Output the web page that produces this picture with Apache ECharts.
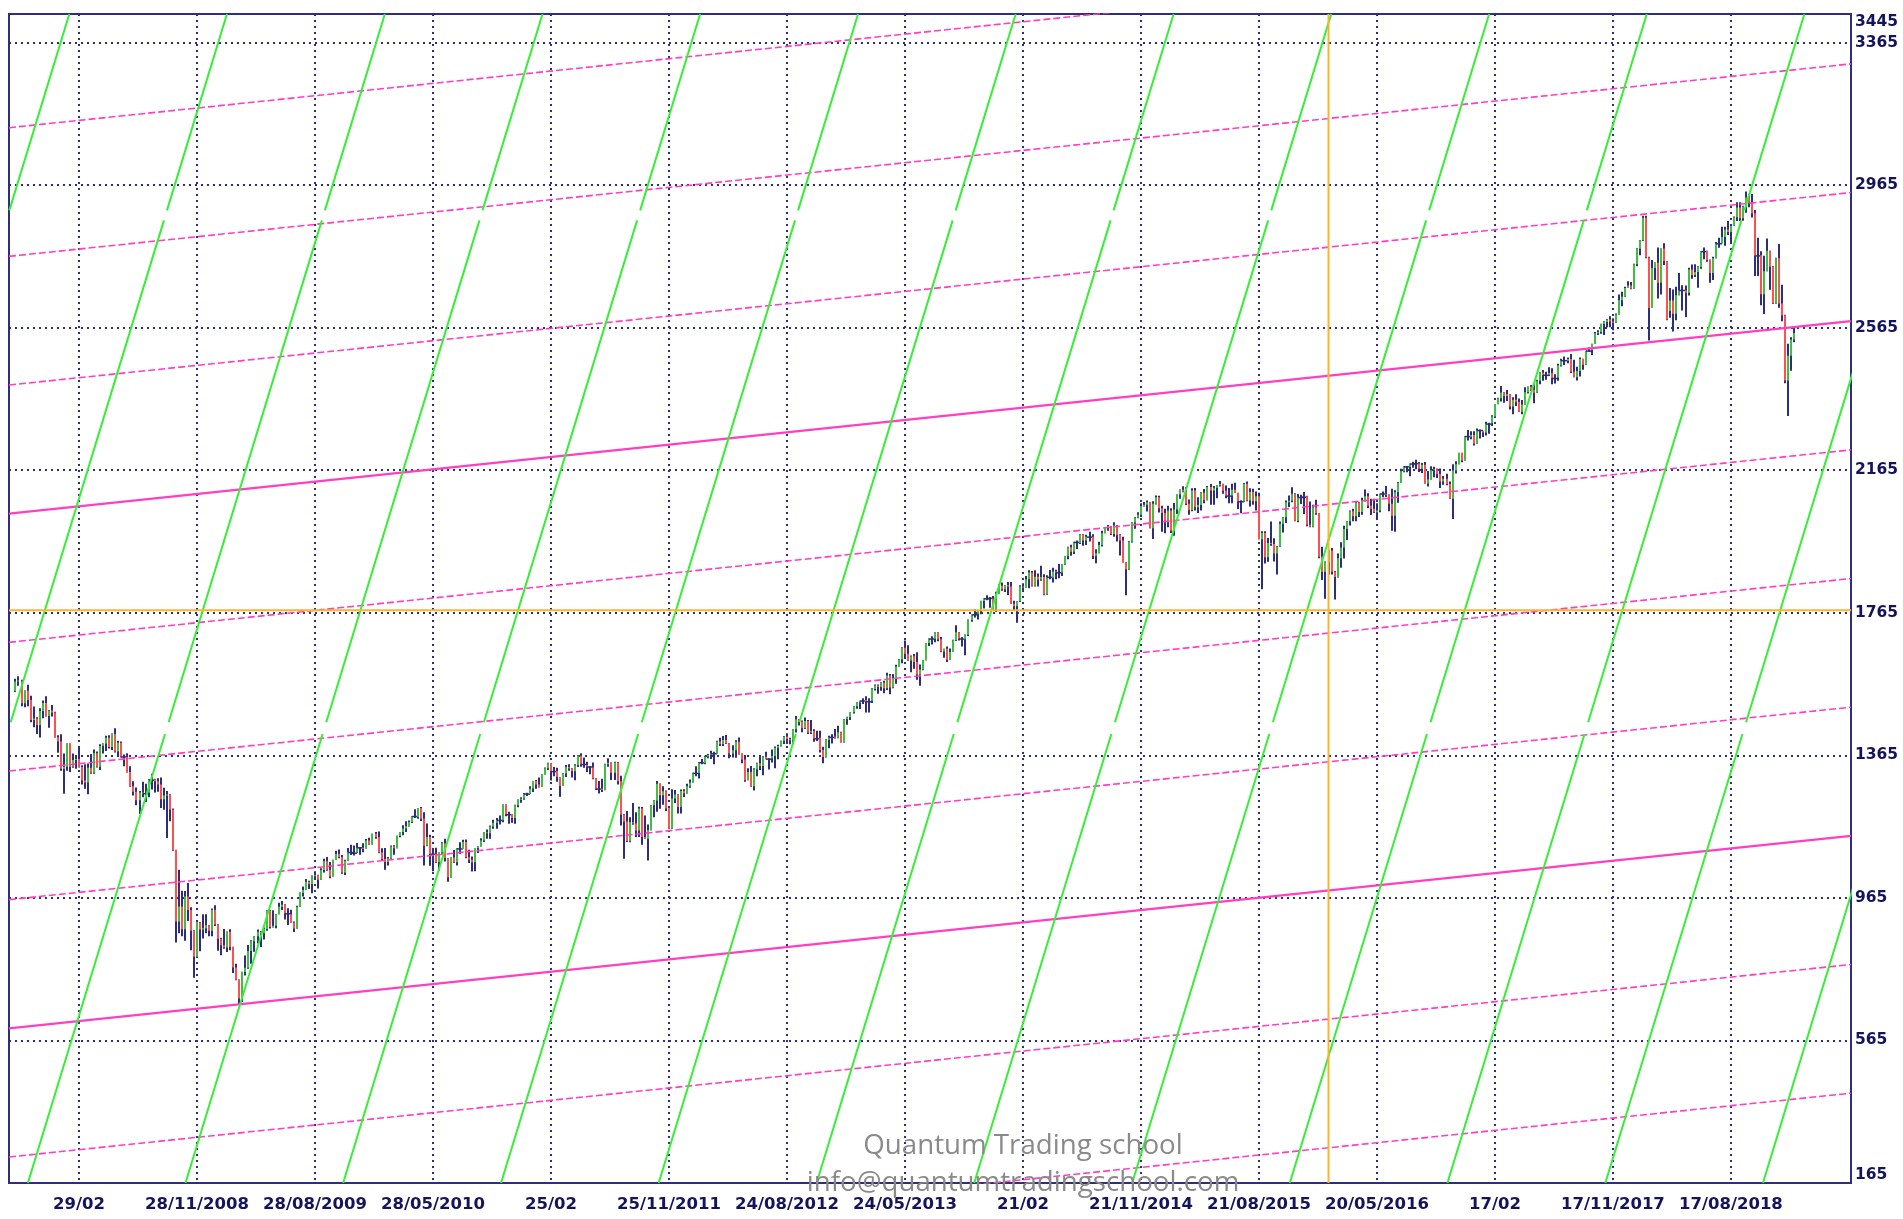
<!DOCTYPE html>
<html>
<head>
    <meta charset="utf-8">
    <title>ES weekly - gann</title>
    <script src="https://cdn.jsdelivr.net/npm/echarts@6/dist/echarts.min.js"></script>
    <style>
        html, body { margin: 0; padding: 0; background: #fff; }
        #main { width: 1903px; height: 1219px; }
    </style>
</head>
<body>
<div id="main"></div>
<script type="text/javascript">
    // weekly bars [open, high, low, close], one array per year, first friday of each array given in yearStart
    var bars2007 = [
        [1545,1580,1543,1572],[1572,1587,1560,1575],[1573,1577,1503,1511],[1511,1547,1500,1546],
        [1546,1563,1503,1520],[1520,1532,1458,1464],[1464,1502,1444,1468],[1468,1472,1425,1450],[1450,1497,1415,1489],
        [1489,1519,1469,1512],[1512,1531,1474,1475],[1475,1492,1442,1491],[1491,1506,1474,1485]
    ];
    var bars2008 = [
        [1485,1487,1415,1416],[1416,1421,1372,1404],[1404,1424,1322,1327],[1327,1370,1257,1333],
        [1333,1398,1322,1397],[1397,1398,1318,1333],[1333,1370,1330,1352],[1352,1363,1327,1355],[1355,1390,1331,1332],
        [1332,1337,1283,1294],[1294,1340,1271,1289],[1289,1342,1256,1330],[1330,1369,1313,1316],
        [1316,1381,1313,1371],[1371,1376,1331,1333],[1333,1396,1324,1391],[1391,1398,1370,1398],
        [1398,1420,1377,1414],[1414,1421,1384,1388],[1388,1426,1380,1425],[1425,1441,1373,1376],[1376,1406,1362,1400],
        [1400,1404,1359,1361],[1361,1367,1334,1360],[1360,1371,1317,1318],[1318,1334,1277,1278],
        [1278,1292,1252,1263],[1263,1275,1225,1239],[1239,1265,1200,1261],[1261,1291,1247,1258],
        [1258,1285,1234,1260],[1260,1298,1247,1296],[1296,1313,1269,1298],[1298,1299,1261,1292],[1292,1301,1263,1283],
        [1283,1303,1217,1242],[1242,1274,1212,1252],[1252,1265,1133,1255],[1255,1256,1180,1213],
        [1213,1216,1097,1099],[1099,1100,840,899],[899,1044,866,941],[941,985,857,877],[877,984,845,969],
        [969,1007,900,931],[931,939,818,873],[873,874,741,800],[800,896,799,896],
        [896,897,815,876],[876,919,851,880],[880,919,866,888],[888,889,857,873]
    ];
    var bars2009 = [
        [873,935,857,932],[932,944,886,890],[890,891,817,850],[850,853,804,832],[832,878,822,826],
        [826,871,813,869],[869,877,818,827],[827,828,754,770],[770,780,734,735],
        [735,736,666,683],[683,758,673,757],[757,803,747,769],[769,833,766,816],
        [816,846,780,843],[843,857,814,857],[857,876,837,870],[870,872,827,866],
        [866,882,848,878],[878,930,873,929],[929,931,879,883],[883,930,882,887],[887,920,880,919],
        [919,951,919,940],[940,956,931,946],[946,947,904,921],[921,936,889,919],
        [919,932,896,896],[896,899,869,879],[879,943,879,940],[940,980,940,979],[979,997,969,987],
        [987,1018,987,1010],[1010,1013,990,1004],[1004,1028,978,1026],[1026,1040,1016,1029],
        [1029,1030,991,1016],[1016,1048,1016,1043],[1043,1075,1036,1068],[1068,1080,1041,1044],
        [1044,1066,1020,1025],[1025,1072,1025,1071],[1071,1097,1071,1088],[1088,1101,1076,1080],[1080,1085,1033,1036],
        [1036,1072,1029,1069],[1069,1105,1069,1093],[1093,1114,1085,1091],[1091,1112,1084,1092],
        [1092,1119,1091,1106],[1106,1108,1086,1106],[1106,1118,1093,1102],[1102,1130,1102,1126]
    ];
    var bars2010 = [
        [1126,1134,1114,1115],[1115,1145,1115,1145],[1145,1150,1131,1136],[1136,1151,1090,1092],[1092,1104,1071,1074],
        [1074,1105,1044,1066],[1066,1080,1056,1076],[1076,1112,1075,1109],[1109,1113,1086,1104],
        [1104,1139,1104,1139],[1139,1150,1135,1150],[1150,1169,1141,1160],[1160,1180,1150,1167],
        [1167,1182,1165,1178],[1178,1195,1175,1194],[1194,1214,1189,1192],[1192,1217,1187,1217],[1217,1220,1181,1187],
        [1187,1205,1056,1111],[1111,1174,1110,1136],[1136,1142,1055,1088],[1088,1104,1040,1089],
        [1089,1106,1063,1065],[1065,1092,1042,1092],[1092,1121,1089,1118],[1118,1131,1067,1077],
        [1077,1077,1010,1023],[1023,1078,1022,1078],[1078,1099,1063,1065],[1065,1104,1056,1103],[1103,1121,1088,1102],
        [1102,1128,1102,1122],[1122,1129,1076,1079],[1079,1100,1063,1072],[1072,1081,1039,1065],
        [1065,1105,1040,1105],[1105,1110,1091,1110],[1110,1132,1109,1126],[1126,1149,1122,1149],
        [1149,1157,1131,1146],[1146,1168,1131,1165],[1165,1184,1159,1176],[1176,1189,1159,1183],[1183,1196,1171,1183],
        [1183,1227,1177,1226],[1226,1227,1194,1199],[1199,1207,1173,1200],[1200,1200,1176,1189],
        [1189,1226,1173,1225],[1225,1241,1219,1240],[1240,1247,1232,1244],[1244,1259,1240,1257],[1257,1260,1251,1258]
    ];
    var bars2011 = [
        [1258,1278,1257,1272],[1272,1293,1262,1293],[1293,1296,1271,1283],[1283,1303,1275,1276],
        [1276,1311,1276,1311],[1311,1331,1311,1329],[1329,1344,1324,1343],[1343,1343,1294,1320],
        [1320,1332,1306,1321],[1321,1330,1291,1304],[1304,1304,1249,1279],[1279,1315,1279,1314],
        [1314,1338,1304,1332],[1332,1340,1322,1328],[1328,1329,1303,1320],[1320,1340,1295,1337],[1337,1365,1332,1364],
        [1364,1371,1333,1340],[1340,1359,1330,1338],[1338,1347,1318,1333],[1333,1334,1312,1331],
        [1331,1345,1298,1300],[1300,1301,1268,1271],[1271,1293,1258,1272],[1272,1299,1262,1268],
        [1268,1341,1267,1340],[1340,1357,1333,1344],[1344,1345,1296,1316],[1316,1347,1296,1345],[1345,1346,1283,1292],
        [1292,1308,1168,1199],[1199,1200,1075,1179],[1179,1209,1122,1124],[1124,1191,1121,1177],
        [1177,1231,1170,1174],[1174,1205,1136,1154],[1154,1221,1136,1216],[1216,1220,1114,1136],[1136,1196,1131,1131],
        [1131,1171,1070,1155],[1155,1225,1155,1225],[1225,1239,1191,1238],[1238,1293,1207,1285],
        [1285,1286,1215,1253],[1253,1278,1226,1264],[1264,1266,1209,1216],[1216,1216,1158,1159],
        [1159,1270,1159,1244],[1244,1268,1231,1255],[1255,1256,1202,1220],[1220,1269,1202,1265],[1265,1270,1248,1258]
    ];
    var bars2012 = [
        [1258,1285,1258,1278],[1278,1297,1274,1289],[1289,1316,1289,1315],[1315,1334,1306,1316],
        [1316,1346,1300,1345],[1345,1355,1340,1343],[1343,1364,1340,1361],[1361,1369,1357,1366],
        [1366,1378,1355,1370],[1370,1375,1340,1371],[1371,1406,1370,1404],[1404,1414,1391,1397],[1397,1419,1391,1408],
        [1408,1422,1397,1398],[1398,1399,1357,1370],[1370,1393,1359,1379],[1379,1407,1358,1403],
        [1403,1415,1367,1369],[1369,1370,1343,1353],[1353,1366,1291,1295],[1295,1329,1295,1318],
        [1318,1335,1277,1278],[1278,1329,1266,1326],[1326,1344,1306,1343],[1343,1364,1324,1335],[1335,1363,1309,1362],
        [1362,1375,1354,1355],[1355,1357,1325,1357],[1357,1381,1345,1363],[1363,1390,1329,1386],
        [1386,1395,1354,1391],[1391,1406,1390,1406],[1406,1419,1397,1418],[1418,1427,1397,1411],[1411,1414,1396,1407],
        [1407,1438,1396,1438],[1438,1475,1429,1466],[1466,1467,1449,1460],[1460,1463,1430,1441],
        [1441,1471,1439,1461],[1461,1464,1425,1429],[1429,1464,1425,1433],[1433,1438,1403,1412],
        [1412,1434,1405,1414],[1414,1434,1373,1380],[1380,1389,1343,1360],[1360,1410,1359,1409],[1409,1420,1385,1416],
        [1416,1424,1398,1418],[1418,1439,1412,1414],[1414,1448,1413,1430],[1430,1431,1401,1402]
    ];
    var bars2013 = [
        [1402,1467,1401,1466],[1466,1473,1451,1472],[1472,1486,1464,1486],[1486,1503,1482,1503],
        [1503,1514,1496,1513],[1513,1518,1495,1518],[1518,1525,1509,1520],[1520,1531,1485,1516],
        [1516,1525,1485,1518],[1518,1553,1512,1551],[1551,1564,1547,1561],[1561,1564,1538,1557],[1557,1570,1546,1569],
        [1569,1574,1539,1553],[1553,1597,1548,1589],[1589,1593,1536,1555],[1555,1593,1553,1582],
        [1582,1619,1566,1614],[1614,1635,1614,1634],[1634,1668,1623,1667],[1667,1687,1635,1650],[1650,1674,1630,1631],
        [1631,1645,1598,1643],[1643,1649,1608,1627],[1627,1654,1577,1592],[1592,1620,1560,1606],
        [1606,1632,1604,1632],[1632,1680,1632,1680],[1680,1693,1672,1692],[1692,1699,1676,1692],
        [1692,1710,1682,1710],[1710,1710,1685,1691],[1691,1697,1654,1656],[1656,1664,1639,1664],[1664,1670,1627,1633],
        [1633,1665,1633,1655],[1655,1689,1655,1688],[1688,1730,1686,1710],[1710,1711,1687,1692],
        [1692,1697,1670,1691],[1691,1704,1646,1703],[1703,1746,1700,1745],[1745,1760,1740,1760],
        [1760,1775,1752,1762],[1762,1771,1746,1771],[1771,1799,1761,1798],[1798,1805,1777,1805],[1805,1814,1800,1806],
        [1806,1809,1779,1805],[1805,1812,1772,1775],[1775,1824,1767,1818],[1818,1845,1818,1841]
    ];
    var bars2014 = [
        [1841,1850,1827,1831],[1831,1843,1823,1842],[1842,1851,1815,1839],[1839,1851,1790,1790],[1790,1799,1770,1783],
        [1783,1797,1737,1797],[1797,1842,1795,1839],[1839,1848,1824,1836],[1836,1868,1836,1859],
        [1859,1884,1834,1878],[1878,1882,1839,1841],[1841,1884,1839,1866],[1866,1875,1839,1858],
        [1858,1897,1855,1865],[1865,1873,1814,1816],[1816,1870,1815,1865],[1865,1885,1859,1863],
        [1863,1891,1850,1881],[1881,1886,1859,1878],[1878,1902,1862,1878],[1878,1901,1868,1901],[1901,1924,1900,1924],
        [1924,1950,1915,1949],[1949,1956,1925,1936],[1936,1964,1930,1963],[1963,1968,1944,1961],
        [1961,1986,1958,1985],[1985,1986,1953,1968],[1968,1984,1955,1978],[1978,1992,1965,1978],
        [1978,1985,1916,1925],[1925,1943,1904,1932],[1932,1964,1932,1955],[1955,1995,1951,1988],[1988,2005,1988,2003],
        [2003,2011,1995,2008],[2008,2008,1983,1986],[1986,2019,1978,2010],[2010,2011,1965,1983],
        [1983,1985,1926,1968],[1968,1978,1906,1906],[1906,1907,1814,1887],[1887,1966,1886,1965],[1965,2019,1962,2018],
        [2018,2034,2001,2032],[2032,2047,2030,2040],[2040,2072,2034,2064],[2064,2076,2063,2068],
        [2068,2080,2049,2075],[2075,2076,2002,2002],[2002,2078,1972,2071],[2071,2094,2069,2089]
    ];
    var bars2015 = [
        [2089,2093,2046,2058],[2058,2065,1992,2045],[2045,2057,1988,2019],[2019,2065,2005,2052],[2052,2058,1989,1995],
        [1995,2073,1981,2055],[2055,2097,2042,2097],[2097,2111,2085,2110],[2110,2120,2103,2105],
        [2105,2118,2067,2071],[2071,2083,2040,2053],[2053,2114,2050,2108],[2108,2115,2052,2061],
        [2061,2089,2045,2067],[2067,2103,2052,2102],[2102,2112,2072,2081],[2081,2121,2081,2118],
        [2118,2126,2068,2108],[2108,2121,2068,2116],[2116,2123,2086,2123],[2123,2135,2119,2126],[2126,2127,2099,2107],
        [2107,2122,2086,2093],[2093,2115,2072,2094],[2094,2127,2072,2110],[2110,2130,2101,2101],
        [2101,2102,2056,2077],[2077,2081,2044,2077],[2077,2129,2076,2127],[2127,2133,2078,2080],[2080,2114,2063,2104],
        [2104,2113,2068,2078],[2078,2105,2052,2092],[2092,2102,1971,1971],[1971,1994,1831,1989],
        [1989,1994,1903,1921],[1921,1975,1908,1961],[1961,2021,1953,1958],[1958,1974,1909,1931],
        [1931,1952,1872,1951],[1951,2021,1950,2015],[2015,2034,1990,2033],[2033,2080,2017,2075],[2075,2094,2062,2079],
        [2079,2117,2075,2099],[2099,2100,2022,2023],[2023,2098,2019,2089],[2089,2096,2070,2090],
        [2090,2104,2042,2092],[2092,2093,2008,2012],[2012,2077,2005,2006],[2006,2068,2005,2061]
    ];
    var bars2016 = [
        [2061,2082,2040,2044],[2044,2044,1918,1922],[1922,1950,1857,1880],[1880,1909,1804,1907],[1907,1940,1872,1940],
        [1940,1947,1872,1880],[1880,1882,1802,1865],[1865,1931,1864,1918],[1918,1963,1891,1948],
        [1948,2009,1917,2000],[2000,2022,1969,2022],[2022,2052,2010,2050],[2050,2057,2022,2036],
        [2036,2075,2022,2073],[2073,2075,2034,2048],[2048,2088,2040,2081],[2081,2111,2077,2092],[2092,2100,2059,2065],
        [2065,2085,2039,2057],[2057,2085,2045,2047],[2047,2072,2026,2052],[2052,2099,2047,2099],
        [2099,2105,2089,2099],[2099,2121,2090,2096],[2096,2097,2050,2071],[2071,2113,1995,2037],
        [2037,2109,1992,2103],[2103,2132,2074,2130],[2130,2169,2130,2162],[2162,2176,2159,2175],[2175,2177,2159,2174],
        [2174,2183,2148,2183],[2183,2189,2172,2184],[2184,2194,2168,2184],[2184,2188,2160,2169],
        [2169,2185,2157,2180],[2180,2188,2128,2128],[2128,2163,2119,2139],[2139,2176,2139,2165],[2165,2175,2145,2168],
        [2168,2170,2143,2154],[2154,2170,2115,2133],[2133,2149,2124,2141],[2141,2155,2123,2126],
        [2126,2133,2084,2085],[2085,2182,2028,2164],[2164,2190,2156,2182],[2182,2214,2182,2213],
        [2213,2214,2187,2192],[2192,2260,2192,2260],[2260,2278,2248,2258],[2258,2274,2252,2264],[2264,2274,2234,2239]
    ];
    var bars2017 = [
        [2239,2282,2239,2277],[2277,2279,2254,2275],[2275,2276,2258,2271],[2271,2301,2262,2295],
        [2295,2298,2267,2297],[2297,2319,2289,2316],[2316,2351,2316,2351],[2351,2368,2350,2367],
        [2367,2401,2358,2383],[2383,2384,2354,2373],[2373,2390,2359,2378],[2378,2379,2335,2344],[2344,2370,2322,2363],
        [2363,2378,2345,2356],[2356,2366,2329,2329],[2329,2362,2322,2349],[2349,2398,2349,2384],
        [2384,2400,2380,2399],[2399,2404,2387,2391],[2391,2406,2353,2382],[2382,2419,2382,2416],
        [2416,2440,2406,2439],[2439,2446,2416,2432],[2432,2441,2419,2433],[2433,2454,2429,2438],[2438,2451,2406,2423],
        [2423,2434,2408,2425],[2425,2464,2416,2459],[2459,2478,2456,2473],[2473,2484,2460,2472],
        [2472,2481,2465,2477],[2477,2491,2438,2441],[2441,2475,2426,2426],[2426,2455,2417,2443],
        [2443,2481,2428,2477],[2477,2478,2447,2461],[2461,2500,2461,2500],[2500,2509,2497,2502],[2502,2520,2488,2519],
        [2519,2553,2519,2549],[2549,2558,2544,2553],[2553,2576,2548,2575],[2575,2583,2544,2581],
        [2581,2589,2566,2588],[2588,2597,2566,2582],[2582,2591,2558,2579],[2579,2605,2578,2602],
        [2602,2658,2602,2642],[2642,2666,2625,2652],[2652,2680,2652,2676],[2676,2695,2676,2683],[2683,2693,2673,2674]
    ];
    var bars2018 = [
        [2674,2744,2674,2743],[2743,2788,2737,2786],[2786,2811,2768,2810],[2810,2879,2808,2873],
        [2873,2879,2760,2762],[2762,2764,2529,2620],[2620,2755,2620,2732],[2732,2748,2699,2747],
        [2747,2790,2647,2691],[2691,2787,2658,2787],[2787,2802,2741,2752],[2752,2752,2586,2588],[2612,2676,2593,2641],
        [2641,2672,2554,2604],[2604,2680,2586,2656],[2656,2718,2656,2670],[2670,2684,2613,2670],
        [2670,2683,2595,2663],[2663,2733,2655,2728],[2728,2742,2702,2713],[2713,2743,2707,2721],
        [2721,2737,2677,2735],[2735,2780,2730,2779],[2779,2790,2757,2780],[2780,2781,2750,2755],[2755,2756,2691,2718],
        [2718,2764,2699,2760],[2760,2805,2760,2801],[2801,2817,2789,2802],[2802,2848,2802,2819],
        [2819,2848,2795,2840],[2840,2864,2825,2833],[2833,2856,2803,2850],[2850,2877,2850,2875],[2875,2917,2864,2902],
        [2902,2917,2864,2872],[2872,2907,2865,2905],[2905,2947,2887,2930],[2930,2940,2903,2914],
        [2914,2940,2874,2886],[2886,2895,2710,2767],[2767,2817,2710,2768],[2768,2779,2628,2659],
        [2659,2767,2603,2723],[2723,2815,2723,2781],[2781,2781,2671,2736],[2736,2737,2631,2633],[2633,2761,2632,2760],
        [2760,2800,2621,2633],[2633,2685,2583,2600],[2600,2601,2409,2417],[2417,2520,2317,2486]
    ];
    var bars2019 = [
        [2486,2538,2444,2532],[2532,2566,2524,2550]
    ];
    var yearStart = {
        '2007-10-05': bars2007, '2008-01-04': bars2008, '2009-01-02': bars2009, '2010-01-01': bars2010,
        '2011-01-07': bars2011, '2012-01-06': bars2012, '2013-01-04': bars2013, '2014-01-03': bars2014,
        '2015-01-02': bars2015, '2016-01-01': bars2016, '2017-01-06': bars2017, '2018-01-05': bars2018,
        '2019-01-04': bars2019
    };

    // x axis labels (every 39 weeks)
    var xLabelDates = ['2008-02-29','2008-11-28','2009-08-28','2010-05-28','2011-02-25','2011-11-25','2012-08-24',
        '2013-05-24','2014-02-21','2014-11-21','2015-08-21','2016-05-20','2017-02-17','2017-11-17','2018-08-17'];
    var xLabelText = ['29/02','28/11/2008','28/08/2009','28/05/2010','25/02','25/11/2011','24/08/2012',
        '24/05/2013','21/02','21/11/2014','21/08/2015','20/05/2016','17/02','17/11/2017','17/08/2018'];
    // y axis labels
    var yGridValues = [565, 965, 1365, 1765, 2165, 2565, 2965, 3365];
    var yLabelValues = [165, 565, 965, 1365, 1765, 2165, 2565, 2965, 3365, 3445];

    // angle lines (magenta): value at left and right edge of the plot
    var pinkLeft  = [-123, 238, 599, 960, 1321, 1682, 2043, 2404, 2765, 3126];
    var pinkRight = [417, 778, 1139, 1500, 1861, 2222, 2583, 2944, 3305, 3666];
    var pinkSolid = [false, false, true, false, false, false, true, false, false, false];
    // angle lines (green): week where each line leaves the bottom (165) and the top (3445)
    var greenBottom = [-121.2, -69.1, -16.9, 35.2, 87.3, 139.5, 191.6, 243.8, 295.9, 348.1, 400.2, 452.3, 504.5, 556.6];
    var greenTop    = [-3.2, 48.9, 101.1, 153.2, 205.3, 257.5, 309.6, 361.8, 413.9, 466.1, 518.2, 570.3, 622.5, 674.6];
    var greenGaps = [[1425, 1458], [2866, 2894]];
    // orange cross
    var orangeWeekDate = '2016-01-29';
    var orangeLevel = 1772;

    var Y_MIN = 165, Y_MAX = 3445;
    var X_MIN = -23.14, X_MAX = 585.7;
    var NAVY = '#2e2e7c';
    var LABEL = '#14145c';

    var DAY = 86400000;
    var weekZero = Date.UTC(2008, 1, 29);
    function weekOf(s) {
        var p = s.split('-');
        return Math.round((Date.UTC(+p[0], +p[1] - 1, +p[2]) - weekZero) / (7 * DAY));
    }

    var barRows = [];
    Object.keys(yearStart).forEach(function (d) {
        var w0 = weekOf(d);
        yearStart[d].forEach(function (b, i) {
            barRows.push([w0 + i, b[0], b[1], b[2], b[3]]);
        });
    });
    var xLabelWeeks = xLabelDates.map(weekOf);

    function renderBar(params, api) {
        var w = api.value(0), o = api.value(1), h = api.value(2), l = api.value(3), c = api.value(4);
        var top = api.coord([w, Math.max(h, o, c)]);
        var bot = api.coord([w, Math.min(l, o, c)]);
        var po = api.coord([w, o]);
        var pc = api.coord([w, c]);
        var x = Math.round(top[0]) - 1;
        var kids = [{
            type: 'rect',
            shape: { x: x, y: top[1], width: 2, height: Math.max(1, bot[1] - top[1]) },
            style: { fill: NAVY }
        }];
        var y1 = Math.min(po[1], pc[1]), y2 = Math.max(po[1], pc[1]);
        if (y2 - y1 >= 1) {
            kids.push({
                type: 'rect',
                shape: { x: x, y: y1, width: 2, height: y2 - y1 },
                style: { fill: c > o ? '#3fbf3f' : '#ff4f4f' }
            });
        } else {
            kids.push({
                type: 'rect',
                shape: { x: x - 2, y: po[1] - 0.5, width: 6, height: 1.5 },
                style: { fill: NAVY }
            });
        }
        return { type: 'group', children: kids };
    }

    function lineSeries(points, color, width, type, z) {
        return {
            type: 'line',
            data: points,
            symbol: 'none',
            silent: true,
            animation: false,
            clip: true,
            z: z,
            lineStyle: { color: color, width: width, type: type }
        };
    }

    var series = [{
        type: 'custom',
        renderItem: renderBar,
        data: barRows,
        encode: { x: 0, y: [2, 3] },
        silent: true,
        animation: false,
        clip: true,
        z: 2
    }];

    for (var i = 0; i < pinkLeft.length; i++) {
        series.push(lineSeries([[X_MIN, pinkLeft[i]], [X_MAX, pinkRight[i]]],
            '#ff3fc0', pinkSolid[i] ? 2.2 : 1.6, pinkSolid[i] ? 'solid' : [7, 3], 3));
    }

    var cuts = [Y_MIN];
    greenGaps.forEach(function (g) { cuts.push(g[0], g[1]); });
    cuts.push(Y_MAX);
    for (var j = 0; j < greenBottom.length; j++) {
        var b = greenBottom[j], t = greenTop[j];
        for (var k = 0; k < cuts.length; k += 2) {
            var v1 = cuts[k], v2 = cuts[k + 1];
            var w1 = b + (t - b) * (v1 - Y_MIN) / (Y_MAX - Y_MIN);
            var w2 = b + (t - b) * (v2 - Y_MIN) / (Y_MAX - Y_MIN);
            series.push(lineSeries([[w1, v1], [w2, v2]], '#36ee36', 2, 'solid', 4));
        }
    }

    var ow = weekOf(orangeWeekDate);
    series.push(lineSeries([[ow, Y_MIN], [ow, Y_MAX]], '#ffb22e', 2, 'solid', 5));
    series.push(lineSeries([[X_MIN, orangeLevel], [X_MAX, orangeLevel]], '#ffb22e', 2, 'solid', 5));

    var chart = echarts.init(document.getElementById('main'));
    var option = {
        animation: false,
        backgroundColor: '#ffffff',
        grid: {
            left: 9, right: 52, top: 14, bottom: 36,
            show: true, borderColor: NAVY, borderWidth: 2, backgroundColor: '#ffffff'
        },
        xAxis: {
            type: 'value',
            min: X_MIN,
            max: X_MAX,
            axisLine: { show: false },
            axisTick: { show: false, customValues: xLabelWeeks },
            splitLine: { show: true, lineStyle: { color: NAVY, width: 2, type: [2, 4] } },
            axisLabel: {
                customValues: xLabelWeeks,
                margin: 13,
                color: LABEL,
                fontFamily: 'DejaVu Sans',
                fontWeight: 'bold',
                fontSize: 16.5,
                formatter: function (v) {
                    for (var i = 0; i < xLabelWeeks.length; i++) {
                        if (Math.abs(xLabelWeeks[i] - v) < 0.01) return xLabelText[i];
                    }
                    return '';
                }
            }
        },
        yAxis: {
            type: 'value',
            position: 'right',
            min: Y_MIN,
            max: Y_MAX,
            axisLine: { show: false },
            axisTick: { show: false, customValues: yGridValues },
            splitLine: { show: true, lineStyle: { color: NAVY, width: 2, type: [2, 4] } },
            axisLabel: {
                customValues: yLabelValues,
                margin: 4,
                color: LABEL,
                fontFamily: 'DejaVu Sans',
                fontWeight: 'bold',
                fontSize: 15.5,
                verticalAlignMinLabel: 'bottom',
                verticalAlignMaxLabel: 'top',
                formatter: function (v) { return String(Math.round(v)); }
            }
        },
        graphic: [{
            type: 'text',
            x: 1023, y: 1146, z: 100, silent: true,
            style: {
                text: 'Quantum Trading school',
                fill: '#8a8a8a',
                font: '27.7px "Open Sans"',
                align: 'center', verticalAlign: 'middle',
                textAlign: 'center', textVerticalAlign: 'middle'
            }
        }, {
            type: 'text',
            x: 1023, y: 1183, z: 100, silent: true,
            style: {
                text: 'info@quantumtradingschool.com',
                fill: '#8a8a8a',
                font: '27.7px "Open Sans"',
                align: 'center', verticalAlign: 'middle',
                textAlign: 'center', textVerticalAlign: 'middle'
            }
        }],
        series: series
    };
    chart.setOption(option);
</script>
</body>
</html>
